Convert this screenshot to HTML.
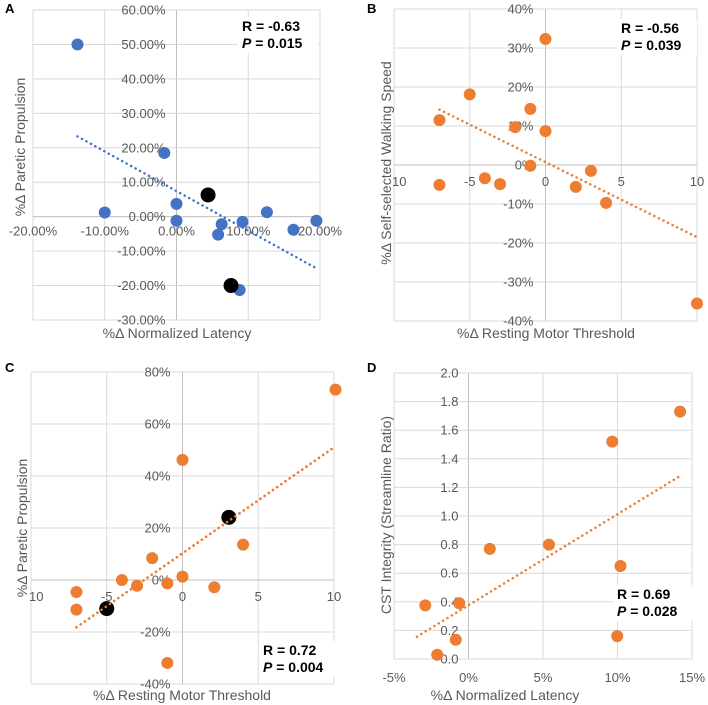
<!DOCTYPE html>
<html><head><meta charset="utf-8"><style>
body{margin:0;background:#fff;}
svg{display:block;font-family:"Liberation Sans",sans-serif;}
.tk{font-size:13px;fill:#595959;}
.ti{font-size:14px;fill:#595959;}
.st{font-size:14px;font-weight:bold;fill:#000;}
.pl{font-size:13px;font-weight:bold;fill:#000;}
</style></head><body>
<svg id="fig" width="708" height="705" viewBox="0 0 708 705"></svg>
<script>
// Panel A data
const aX=[-13.8,-10,-1.7,0,0,5.8,6.3,9.2,8.8,12.6,16.3,19.5];
const aY=[50,1.2,18.5,3.7,-1.2,-5.2,-2.2,-1.5,-21.3,1.3,-3.8,-1.2];
const aBX=[4.4,7.6];
const aBY=[6.3,-20.0];
const aTrendX=[-13.8,19.5];
const aTrendY=[23.3,-15];
const aXTicks=["-20.00%","-10.00%","0.00%","10.00%","20.00%"];
const aYTicks=["60.00%","50.00%","40.00%","30.00%","20.00%","10.00%","0.00%","-10.00%","-20.00%","-30.00%"];
// Panel B data
const bX=[-7,-7,-5,-4,-3,-2,-1,-1,0,0,3,2,4,10];
const bY=[-5.1,11.5,18.1,-3.4,-4.9,9.7,14.4,-0.2,32.3,8.7,-1.5,-5.6,-9.7,-35.5];
const bTrendX=[-7,10];
const bTrendY=[14.2,-18.5];
const bXTicks=["10","-5","0","5","10"];
const bYTicks=["40%","30%","20%","10%","0%","-10%","-20%","-30%","-40%"];
// Panel C data
const cX=[10.1,0,4,-2,-4,-3,-1,0,2.1,-7,-7,-1];
const cY=[73.2,46.2,13.6,8.4,0,-2.2,-1.3,1.3,-2.8,-4.6,-11.4,-31.9];
const cBX=[-5,3.06];
const cBY=[-11,24.1];
const cTrendX=[-7,10];
const cTrendY=[-18.2,51];
const cXTicks=["10","-5","0","5","10"];
const cYTicks=["80%","60%","40%","20%","0%","-20%","-40%"];
// Panel D data
const dX=[14.2,9.65,10.2,9.98,5.4,1.43,-2.9,-0.62,-0.85,-2.1];
const dY=[1.73,1.52,0.65,0.16,0.80,0.77,0.375,0.39,0.135,0.03];
const dTrendX=[-3.46,14.2];
const dTrendY=[0.156,1.28];
const dXTicks=["-5%","0%","5%","10%","15%"];
const dYTicks=["2.0","1.8","1.6","1.4","1.2","1.0","0.8","0.6","0.4","0.2","0.0"];

const NS="http://www.w3.org/2000/svg";
const svg=document.getElementById('fig');
function mk(tag,attrs,parent,text){const e=document.createElementNS(NS,tag);for(const k in attrs)e.setAttribute(k,attrs[k]);if(text!==undefined)e.textContent=text;(parent||svg).appendChild(e);return e;}
function lin(d0,d1,r0,r1){return v=>r0+(v-d0)/(d1-d0)*(r1-r0);}

function panel(o){
  const g=mk('g',{});
  
  
  const sx=lin(o.xd[0],o.xd[1],o.L,o.R), sy=lin(o.yd[0],o.yd[1],o.B,o.T);
  // grid
  const nx=o.xt.length, ny=o.yt.length;
  for(let i=0;i<nx;i++){const v=o.xd[0]+i*(o.xd[1]-o.xd[0])/(nx-1);const x=sx(v);
    const l=mk('line',{x1:x,x2:x,y1:o.T,y2:o.B,stroke:Math.abs(v)<1e-9?'#bfbfbf':'#d9d9d9','stroke-width':1},g);
    }
  for(let i=0;i<ny;i++){const v=o.yd[1]-i*(o.yd[1]-o.yd[0])/(ny-1);const y=sy(v);
    const l=mk('line',{x1:o.L,x2:o.R,y1:y,y2:y,stroke:Math.abs(v)<1e-9&&o.xAxisAt0?'#bfbfbf':'#d9d9d9','stroke-width':1},g);
    }
  // stats box
  const bx=mk('rect',{x:o.sx-4,y:o.sy-14,width:80,height:36,fill:'#fff'},g);
  
  // tick labels
  const y0=o.xAxisAt0?sy(0):o.B;
  for(let i=0;i<nx;i++){const v=o.xd[0]+i*(o.xd[1]-o.xd[0])/(nx-1);
    let x=sx(v);let anchor='middle';
    if(o.clipFirst&&i===0){anchor='start';x=o.L-2;}
    const t=mk('text',{x:x,y:y0+o.xlo,'text-anchor':anchor,class:'tk'},g,o.xt[i]);
    }
  const ax=sx(0);
  for(let i=0;i<ny;i++){const v=o.yd[1]-i*(o.yd[1]-o.yd[0])/(ny-1);
    const t=mk('text',{x:ax-o.ylo,y:sy(v)+4.5,'text-anchor':'end',class:'tk'},g,o.yt[i]);
    }
  // trend
  const tl=mk('line',{x1:sx(o.tx[0]),y1:sy(o.ty[0]),x2:sx(o.tx[1]),y2:sy(o.ty[1]),stroke:o.col,'stroke-width':2.5,'stroke-dasharray':'0.1,5','stroke-linecap':'round'},g);
  
  // points
  for(let i=0;i<o.px.length;i++){const c=mk('circle',{cx:sx(o.px[i]),cy:sy(o.py[i]),r:6,fill:o.col},g);
    }
  if(o.bx)for(let i=0;i<o.bx.length;i++){const c=mk('circle',{cx:sx(o.bx[i]),cy:sy(o.by[i]),r:7.5,fill:'#000'},g);
    }
  if(o.blackUnder){const tl2=tl.cloneNode();g.appendChild(tl2);}
  // titles
  const xt=mk('text',{x:o.xtx,y:o.xty,'text-anchor':'middle',class:'ti'},g,o.xtitle);
  
  const yt=mk('text',{x:0,y:0,'text-anchor':'middle',class:'ti',transform:`translate(${o.ytx},${o.yty}) rotate(-90)`},g,o.ytitle);
  
  const s1=mk('text',{x:o.sx,y:o.sy,class:'st'},g,o.r);
  
  const s2=mk('text',{x:o.sx,y:o.sy+17,class:'st'},g);
  
  mk('tspan',{'font-style':'italic'},s2,'P');mk('tspan',{},s2,' = '+o.p);
  const pl=mk('text',{x:o.lx,y:o.ly,class:'pl'},g,o.id);
  
}

panel({id:'A',L:33,R:320,T:10,B:320,xd:[-20,20],yd:[-30,60],xt:aXTicks,yt:aYTicks,xAxisAt0:true,xlo:19,ylo:11,
  px:aX,py:aY,bx:aBX,by:aBY,tx:aTrendX,ty:aTrendY,col:'#4472c4',blackUnder:false,
  xtitle:'%Δ Normalized Latency',xtx:177,xty:338,ytitle:'%Δ Paretic Propulsion',ytx:25,yty:147,
  r:'R = -0.63',p:'0.015',sx:242,sy:31,lx:5,ly:13});
panel({id:'B',L:394,R:697,T:9,B:321,xd:[-10,10],yd:[-40,40],xt:bXTicks,yt:bYTicks,xAxisAt0:true,xlo:21,ylo:12,clipFirst:true,
  px:bX,py:bY,tx:bTrendX,ty:bTrendY,col:'#ed7d31',
  xtitle:'%Δ Resting Motor Threshold',xtx:546,xty:338,ytitle:'%Δ Self-selected Walking Speed',ytx:391,yty:163,
  r:'R = -0.56',p:'0.039',sx:621,sy:33,lx:367,ly:13});
panel({id:'C',L:31,R:334,T:372,B:684,xd:[-10,10],yd:[-40,80],xt:cXTicks,yt:cYTicks,xAxisAt0:true,xlo:21,ylo:12,clipFirst:true,
  px:cX,py:cY,bx:cBX,by:cBY,tx:cTrendX,ty:cTrendY,col:'#ed7d31',blackUnder:true,
  xtitle:'%Δ Resting Motor Threshold',xtx:182,xty:700,ytitle:'%Δ Paretic Propulsion',ytx:27,yty:528,
  r:'R = 0.72',p:'0.004',sx:263,sy:655,lx:5,ly:372});
panel({id:'D',L:394,R:692,T:373,B:659,xd:[-5,15],yd:[0,2],xt:dXTicks,yt:dYTicks,xAxisAt0:false,xlo:23,ylo:10,
  px:dX,py:dY,tx:dTrendX,ty:dTrendY,col:'#ed7d31',
  xtitle:'%Δ Normalized Latency',xtx:505,xty:700,ytitle:'CST Integrity (Streamline Ratio)',ytx:391,yty:515,
  r:'R = 0.69',p:'0.028',sx:617,sy:599,lx:367,ly:372});
</script>
</body></html>
